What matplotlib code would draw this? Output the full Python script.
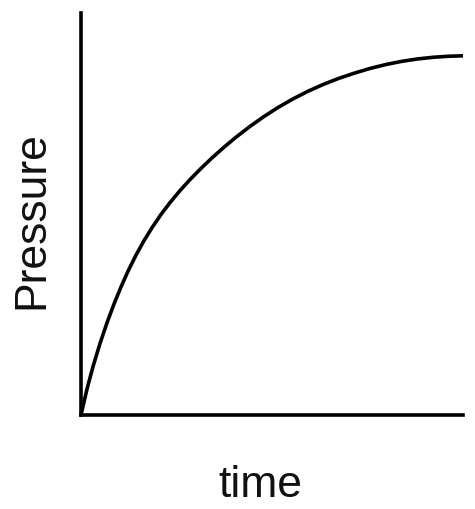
import matplotlib
matplotlib.use("Agg")
import matplotlib.pyplot as plt

# Data (arbitrary units)
time = [0, 6, 12, 19, 26, 33, 40, 47, 55, 63, 71, 80, 89, 99, 109, 120, 131, 143, 156,
        169, 183, 197, 212, 227, 242, 257, 273, 289, 305, 321, 337, 353, 368, 382]
pressure = [0, 26.0, 48.4, 71.5, 92.2, 111.0, 128.1, 143.8, 159.9, 174.3, 187.3, 200.5,
            212.4, 224.4, 235.4, 246.6, 257.1, 267.8, 278.6, 288.6, 298.5, 307.5, 316.1,
            323.75, 330.45, 336.35, 341.75, 346.55, 350.5, 353.7, 356.1, 357.8, 358.75,
            359.2]
x_label = "time"
y_label = "Pressure"

plt.rcParams['font.family'] = ['Liberation Sans', 'DejaVu Sans']

fig = plt.figure(figsize=(4.75, 5.09), dpi=100)
ax = fig.add_axes([81/475, 94/509, 382/475, 402/509])
ax.plot(time, pressure, color='black', linewidth=2.6, solid_capstyle='butt',
        solid_joinstyle='round', clip_on=False)
ax.set_xlim(0, 382)
ax.set_ylim(0, 402)
for s in ['top', 'right']:
    ax.spines[s].set_visible(False)
for s in ['left', 'bottom']:
    ax.spines[s].set_linewidth(2.6)
    ax.spines[s].set_color('black')
    ax.spines[s].set_capstyle('projecting')
ax.set_xticks([])
ax.set_yticks([])

fig.text(260/475, (509-497)/509, x_label, fontsize=32, ha='center', va='baseline', color='#111111')
fig.text(43/475, (509-220)/509, y_label, fontsize=32, ha='center', va='baseline',
         rotation=90, rotation_mode='anchor', color='#111111')

fig.savefig("out.png", dpi=100, facecolor='white')
